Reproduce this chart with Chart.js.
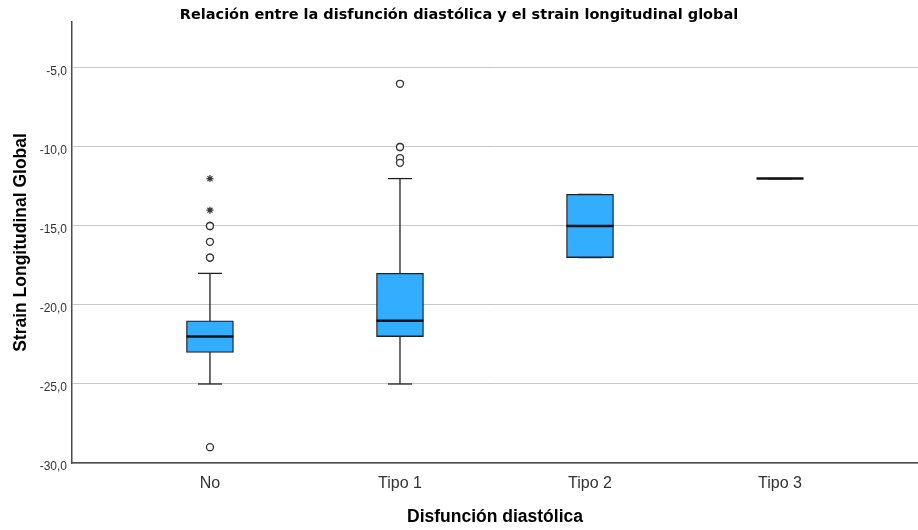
<!DOCTYPE html>
<html>
<head>
<meta charset="utf-8">
<script src="https://cdn.jsdelivr.net/npm/chart.js@4/dist/chart.umd.min.js"></script>
<style>
html,body{margin:0;padding:0;background:#fff;}
#wrap{width:918px;height:530px;position:relative;}
</style>
</head>
<body>
<div id="wrap"><canvas id="c" width="918" height="530"></canvas></div>
<script>
// ---- Data ----
const categories   = ["No", "Tipo 1", "Tipo 2", "Tipo 3"];
const whiskerLow   = [-25, -25, -17, -12];
const q1Values     = [-23, -22, -17, -12];
const medianValues = [-22, -21, -15, -12];
const q3Values     = [-21, -18, -13, -12];
const whiskerHigh  = [-18, -12, -13, -12];
// outliers (circles) and extreme values (stars), per category
const outliersNo    = [-15, -15, -16, -17, -17, -29];
const outliersTipo1 = [-6, -10, -10, -10.7, -11];
const extremesNo    = [-12, -14];
const yTicks = [-30, -25, -20, -15, -10, -5];

const outlierGroups = [outliersNo, outliersTipo1, [], []];
const extremeGroups = [extremesNo, [], [], []];

const FONT = "'Liberation Sans', Arial, sans-serif";

const whiskerData = [];
categories.forEach((c, i) => {
  whiskerData.push({x: i, y: whiskerLow[i]});
  whiskerData.push({x: i, y: whiskerHigh[i]});
  whiskerData.push({x: i, y: null});
});
const capData = [];
categories.forEach((c, i) => {
  capData.push({x: i, y: whiskerLow[i]});
  capData.push({x: i, y: whiskerHigh[i]});
});
const boxData = categories.map((c, i) => ({x: i, y: [q1Values[i], q3Values[i]]}));
const medianData = categories.map((c, i) => ({x: i, y: medianValues[i]}));
const outlierData = [];
outlierGroups.forEach((g, i) => g.forEach(v => outlierData.push({x: i, y: v})));
const extremeData = [];
extremeGroups.forEach((g, i) => g.forEach(v => extremeData.push({x: i, y: v})));

function zeroPad(s) {
  s.paddingLeft = 0; s.paddingRight = 0; s.paddingTop = 0; s.paddingBottom = 0;
}

const chart = new Chart(document.getElementById('c'), {
  type: 'bar',
  data: {
    datasets: [
      { type: 'scatter', data: extremeData, pointStyle: 'star', radius: 3.5,
        borderColor: '#333', backgroundColor: '#333', borderWidth: 1.2, order: 0 },
      { type: 'scatter', data: outlierData, pointStyle: 'circle', radius: 3.5,
        borderColor: '#333', backgroundColor: '#fff', borderWidth: 1.3, order: 1 },
      { type: 'scatter', data: medianData, pointStyle: 'line', radius: 23.5,
        borderColor: '#111', borderWidth: 2.5, order: 2 },
      { type: 'bar', data: boxData, barThickness: 47, backgroundColor: '#33adff',
        borderColor: '#222', borderWidth: 1.3, borderSkipped: false, order: 3 },
      { type: 'scatter', data: capData, pointStyle: 'line', radius: 12,
        borderColor: '#222', borderWidth: 1.3, order: 4 },
      { type: 'line', data: whiskerData, showLine: true, spanGaps: false, pointRadius: 0,
        borderColor: '#222', borderWidth: 1.3, fill: false, order: 5 }
    ]
  },
  options: {
    responsive: false,
    animation: false,
    events: [],
    layout: { padding: 0, autoPadding: false },
    plugins: {
      legend: { display: false },
      tooltip: { enabled: false },
      title: {
        display: true,
        text: 'Relación entre la disfunción diastólica y el strain longitudinal global',
        color: '#000',
        font: { family: "'DejaVu Sans', sans-serif", size: 14.5, weight: 'bold', lineHeight: 1.0 },
        padding: { top: 7.5, bottom: 0 }
      }
    },
    scales: {
      x: {
        type: 'linear',
        offset: false,
        min: -0.726,
        max: 3.726,
        afterBuildTicks: (s) => { s.ticks = categories.map((c, i) => ({value: i})); },
        afterFit: (s) => { s.height = 67; zeroPad(s); },
        grid: { display: false, drawTicks: false, offset: false },
        border: { display: true, color: '#4d4d4d', width: 1.5 },
        ticks: {
          callback: (v) => categories[v],
          color: '#333',
          font: { family: FONT, size: 16 },
          padding: 10.5,
          autoSkip: false,
          maxRotation: 0
        },
        title: {
          display: true,
          text: 'Disfunción diastólica',
          color: '#000',
          font: { family: FONT, size: 17.5, weight: 'bold' },
          padding: { top: 0, bottom: 2 }
        }
      },
      y: {
        type: 'linear',
        min: -30,
        max: -2.09,
        afterBuildTicks: (s) => { s.ticks = yTicks.map(v => ({value: v})); },
        afterFit: (s) => { s.width = 72; zeroPad(s); },
        grid: { color: '#c8c8c8', lineWidth: 1, drawTicks: false },
        border: { display: true, color: '#4d4d4d', width: 1.5 },
        ticks: {
          callback: (v) => v.toFixed(1).replace('.', ','),
          color: '#333',
          font: { family: FONT, size: 12 },
          padding: 5,
          labelOffset: 3.5
        },
        title: {
          display: true,
          text: 'Strain Longitudinal Global',
          color: '#000',
          font: { family: FONT, size: 17.5, weight: 'bold' },
          padding: { top: 11, bottom: 0 }
        }
      }
    }
  }
});
</script>
</body>
</html>
